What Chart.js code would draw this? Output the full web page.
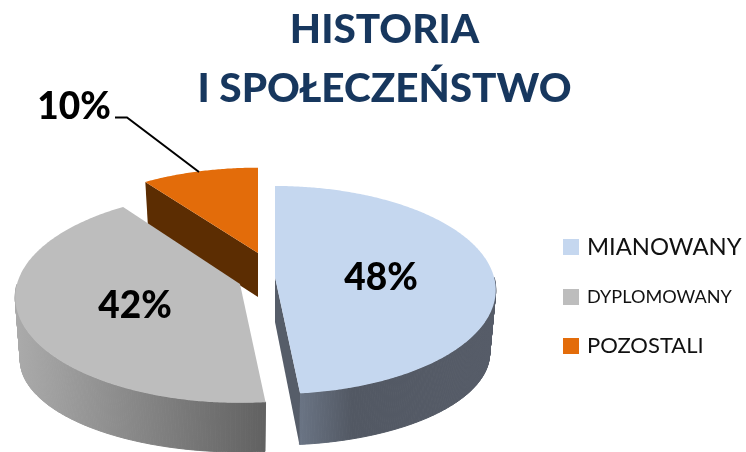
<!DOCTYPE html>
<html>
<head>
<meta charset="utf-8">
<style>html,body{margin:0;padding:0;background:#fff}canvas{display:block}</style>
<script src="https://cdn.jsdelivr.net/npm/chart.js@4"></script>
</head>
<body>
<canvas id="c" width="746" height="452"></canvas>
<script>
const categories = ['MIANOWANY', 'DYPLOMOWANY', 'POZOSTALI'];
const shareValues = [48.4, 41.8, 9.8];
const sliceColors = ['#C5D7EF', '#BDBDBD', '#E36C0A'];
const titleLines = ['HISTORIA', 'I SPOŁECZEŃSTWO'];

// how each exploded slice is seen in the tilted view
const views = [
  {ax:275, ay:277, b:219, a:102.4, depth:64.5, apexDepth:45, sb:213, sa:90.6,
   side:[[300,'#6A7484'],[352,'#525863'],[490,'#565C68']], edge:'#565D69', corner:'end'},
  {ax:240, ay:284, b:223, a:104, depth:64.5, apexDepth:47, sb:218, sa:90.6,
   side:[[15,'#ABABAB'],[262,'#626262']], edge:null},
  {ax:258, ay:253, b:215, a:96, depth:44, apexDepth:44, sb:210, sa:96,
   side:[[140,'#5C2D02'],[260,'#5C2D02']], edge:'#5C2D02', corner:'start'}
];
const labelSpots = [{x:381,y:290},{x:135,y:318},{x:74,y:119}];
const legendRows = [
  {box:239, base:255, size:23.8}, {box:289, base:303, size:18.1}, {box:338, base:353, size:22}
];
const K = 0.125;

function proj(v, ang, b, a, dy) {
  const d = 1 - K * Math.sin(ang);
  return [v.ax + b * Math.cos(ang) / d, v.ay + (dy||0) + a * Math.sin(ang) / d];
}
function arcPts(v, s, e, b, a, dy) {
  const n = Math.max(2, Math.ceil((e - s) / 0.01)), out = [];
  for (let i = 0; i <= n; i++) out.push(proj(v, s + (e - s) * i / n, b, a, dy));
  return out;
}
function poly(ctx, pts) {
  ctx.beginPath();
  pts.forEach((p, i) => i ? ctx.lineTo(p[0], p[1]) : ctx.moveTo(p[0], p[1]));
  ctx.closePath();
}
const pie3d = {
  id: 'pie3d',
  beforeDatasetsDraw(chart) {
    const ctx = chart.ctx, meta = chart.getDatasetMeta(0);
    for (let i = meta.data.length - 1; i >= 0; i--) {
      const arc = meta.data[i], v = views[i];
      const s = arc.startAngle, e = arc.endAngle;
      const top = arcPts(v, s, e, v.b, v.a, 0);
      const low = arcPts(v, s, e, v.sb, v.sa, v.depth);
      const x0 = v.side[0][0], x1 = v.side[v.side.length-1][0];
      const g = ctx.createLinearGradient(x0, 0, x1, 0);
      v.side.forEach(st => g.addColorStop((st[0]-x0)/(x1-x0), st[1]));
      ctx.fillStyle = g;
      ctx.strokeStyle = g;
      ctx.lineWidth = 1;
      // sweep the rim between the upper and lower outlines, front half only
      const steps = top.length - 1;
      for (let j = 0; j < steps; j++) {
        if (Math.sin(s + (e - s) * (j + 0.5) / steps) <= 0) continue;
        poly(ctx, [top[j], top[j+1], low[j+1], low[j]]);
        ctx.fill();
        ctx.stroke();
      }
      if (v.edge) {
        const tp = v.corner === 'end' ? top[top.length-1] : top[0];
        const lp = v.corner === 'end' ? low[low.length-1] : low[0];
        ctx.fillStyle = v.edge;
        poly(ctx, [[v.ax, v.ay], tp, lp, [v.ax, v.ay + v.apexDepth]]);
        ctx.fill();
      }
      ctx.fillStyle = arc.options.backgroundColor;
      poly(ctx, [[v.ax, v.ay]].concat(top));
      ctx.fill();
    }
    return false;
  },
  afterDraw(chart) {
    const ctx = chart.ctx, total = shareValues.reduce((p, c) => p + c, 0);
    ctx.save();
    ctx.strokeStyle = '#000';
    ctx.lineWidth = 2;
    ctx.beginPath();
    ctx.moveTo(115, 117.5); ctx.lineTo(127, 117.5); ctx.lineTo(199, 172);
    ctx.stroke();
    ctx.fillStyle = '#000';
    ctx.font = '900 37px Lato';
    ctx.textAlign = 'center';
    ctx.textBaseline = 'alphabetic';
    shareValues.forEach((val, i) => ctx.fillText(Math.round(val / total * 100) + '%', labelSpots[i].x, labelSpots[i].y));
    ctx.textAlign = 'left';
    categories.forEach((name, i) => {
      const r = legendRows[i];
      ctx.fillStyle = sliceColors[i];
      ctx.fillRect(563, r.box, 16, 16);
      ctx.fillStyle = '#111';
      ctx.font = r.size + 'px Lato';
      ctx.fillText(name, 587, r.base);
    });
    ctx.restore();
  }
};
new Chart(document.getElementById('c'), {
  type: 'pie',
  plugins: [pie3d],
  data: { labels: categories, datasets: [{ data: shareValues, backgroundColor: sliceColors, borderWidth: 0 }] },
  options: {
    responsive: false,
    animation: false,
    layout: { padding: { left: 23, top: 0 } },
    plugins: {
      legend: { display: false },
      tooltip: { enabled: false },
      title: {
        display: true, text: titleLines, color: '#17375E', fullSize: false,
        font: { family: 'Lato', weight: 900, size: 40.5, lineHeight: 1.457 },
        padding: { top: 0, bottom: 0 }
      }
    }
  }
});
</script>
</body>
</html>
